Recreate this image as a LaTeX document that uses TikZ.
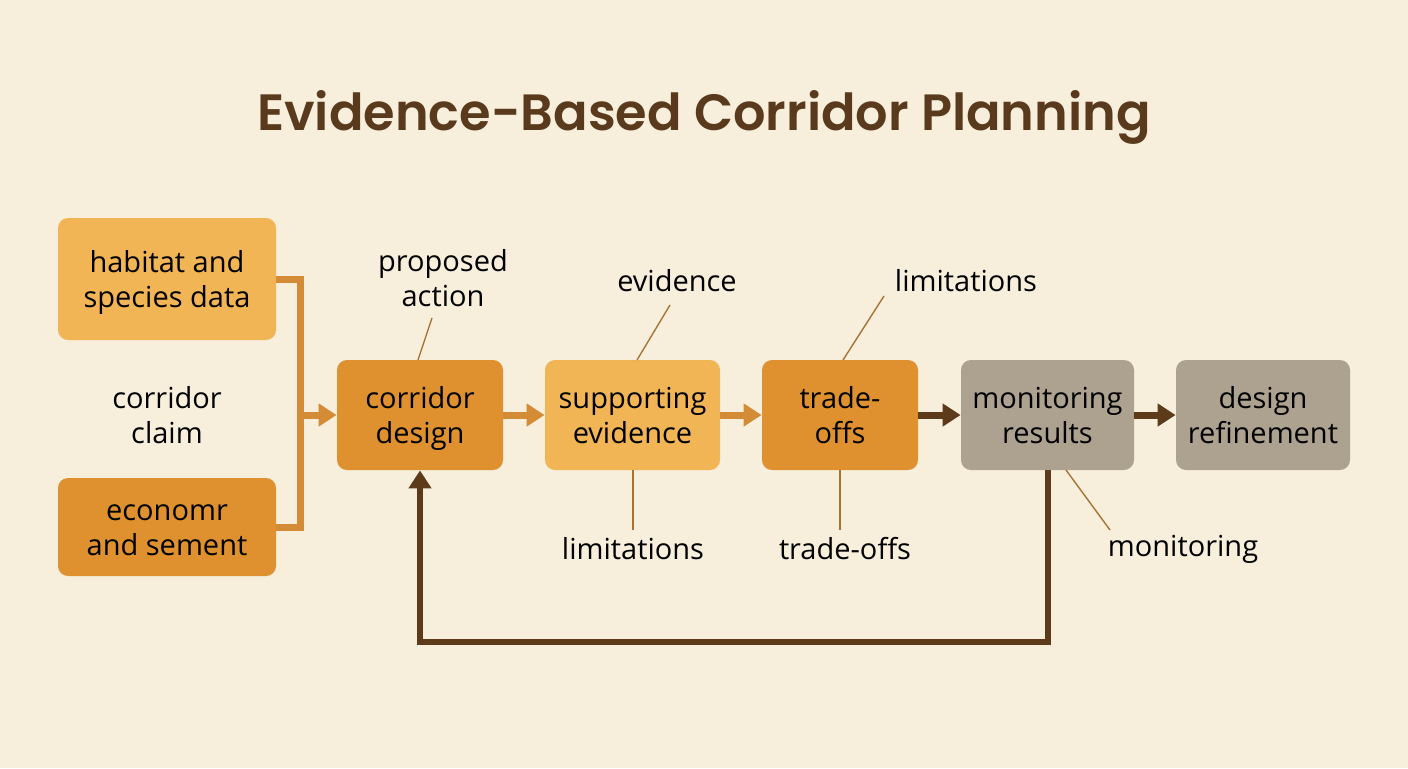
\documentclass[tikz,border=0pt]{standalone}
\usepackage{fontspec}
\setmainfont{Open Sans}
\newfontfamily\titlefont{Poppins SemiBold}
\usetikzlibrary{arrows.meta}
\definecolor{bg}{HTML}{F7EFDC}
\definecolor{lightor}{HTML}{F2B555}
\definecolor{darkor}{HTML}{DE912E}
\definecolor{grayb}{HTML}{ADA18F}
\definecolor{titlec}{HTML}{5A3A1C}
\definecolor{orline}{HTML}{D38C35}
\definecolor{brline}{HTML}{5C3A1A}
\definecolor{leader}{HTML}{A77332}
\newcommand{\dg}{\vphantom{g}}
\newcommand{\tp}{\rule{0pt}{14pt}}
\tikzset{
  box/.style={rounded corners=5pt, inner sep=0pt, align=center, font=\fontsize{14.5}{17.5}\selectfont, text=black},
  lbl/.style={align=center, font=\fontsize{14.5}{17.5}\selectfont, text=black, inner sep=0pt},
  orarrow/.style={draw=orline, line width=3.5pt, -{Triangle[length=9pt,width=11pt]}},
  brarrow/.style={draw=brline, line width=3.5pt, line join=miter, -{Triangle[length=9pt,width=11pt]}},
  orline/.style={draw=orline, line width=3.5pt},
  leaderline/.style={draw=leader, line width=0.7pt}
}
\begin{document}
\begin{tikzpicture}[x=0.5pt,y=-0.5pt]
\fill[bg] (0,0) rectangle (1408,768);
\useasboundingbox (0,0) rectangle (1408,768);
\node[font=\titlefont\fontsize{25.5}{30}\selectfont, text=titlec] (title) at (704,117) {Evidence-Based Corridor Planning};
% boxes
\node[box, fill=lightor, minimum width=109pt, minimum height=61pt] (hab) at (167,279) {\tp habitat and\\species data\dg};
\node[box, fill=darkor, minimum width=109pt, minimum height=49pt] (eco) at (167,527) {\tp economr\\and sement\dg};
\node[lbl] (claim) at (167,415) {\tp corridor\\claim\dg};
\node[box, fill=darkor, minimum width=83pt, minimum height=55pt] (cd) at (420,415) {\tp corridor\\design};
\node[box, fill=lightor, minimum width=87.5pt, minimum height=55pt] (se) at (632.5,415) {\tp supporting\\evidence\dg};
\node[box, fill=darkor, minimum width=78pt, minimum height=55pt] (to) at (840,415) {\tp trade-\\offs\dg};
\node[box, fill=grayb, minimum width=86.5pt, minimum height=55pt] (mr) at (1047.5,415) {\tp monitoring\\results\dg};
\node[box, fill=grayb, minimum width=87pt, minimum height=55pt] (dr) at (1263,415) {\tp design\\refinement\dg};
% merge connector
\coordinate (j1) at (300,279);
\coordinate (j2) at (300,527);
\coordinate (jm) at (300,415);
\draw[orline, line join=miter] (hab.east |- j1) -- (j1) -- (j2) -- (eco.east |- j2);
\draw[orarrow] (jm) -- (cd.west);
\draw[orarrow] (cd.east) -- (se.west);
\draw[orarrow] (se.east) -- (to.west);
\draw[brarrow] (to.east) -- (mr.west);
\draw[brarrow] (mr.east) -- (dr.west);
% feedback
\coordinate (fy) at (0,642);
\draw[brarrow, line width=3pt] (mr.south) -- (mr.south |- fy) -- (cd.south |- fy) -- (cd.south);
% labels
\node[lbl] (pa) at (443,278) {proposed\\action};
\node[lbl] (ev) at (677,281) {evidence};
\node[lbl] (lt) at (966,281) {limitations};
\node[lbl] (lb) at (633,549) {limitations};
\node[lbl] (tb) at (845,549) {trade-offs};
\node[lbl] (mo) at (1183,549) {monitoring};
\coordinate (pa1) at (432,318);
\coordinate (pa2) at (418,360);
\draw[leaderline] (pa1) -- (pa2);
\coordinate (ev1) at (670,305);
\coordinate (ev2) at (637,360);
\draw[leaderline] (ev1) -- (ev2);
\coordinate (lt1) at (884,296);
\coordinate (lt2) at (843,360);
\draw[leaderline] (lt1) -- (lt2);
\coordinate (lb1) at (633,470);
\coordinate (lb2) at (633,530);
\draw[leaderline] (lb1) -- (lb2);
\coordinate (tb1) at (840,470);
\coordinate (tb2) at (840,530);
\draw[leaderline] (tb1) -- (tb2);
\coordinate (mo1) at (1066,470);
\coordinate (mo2) at (1110,530);
\draw[leaderline] (mo1) -- (mo2);
\end{tikzpicture}
\end{document}
